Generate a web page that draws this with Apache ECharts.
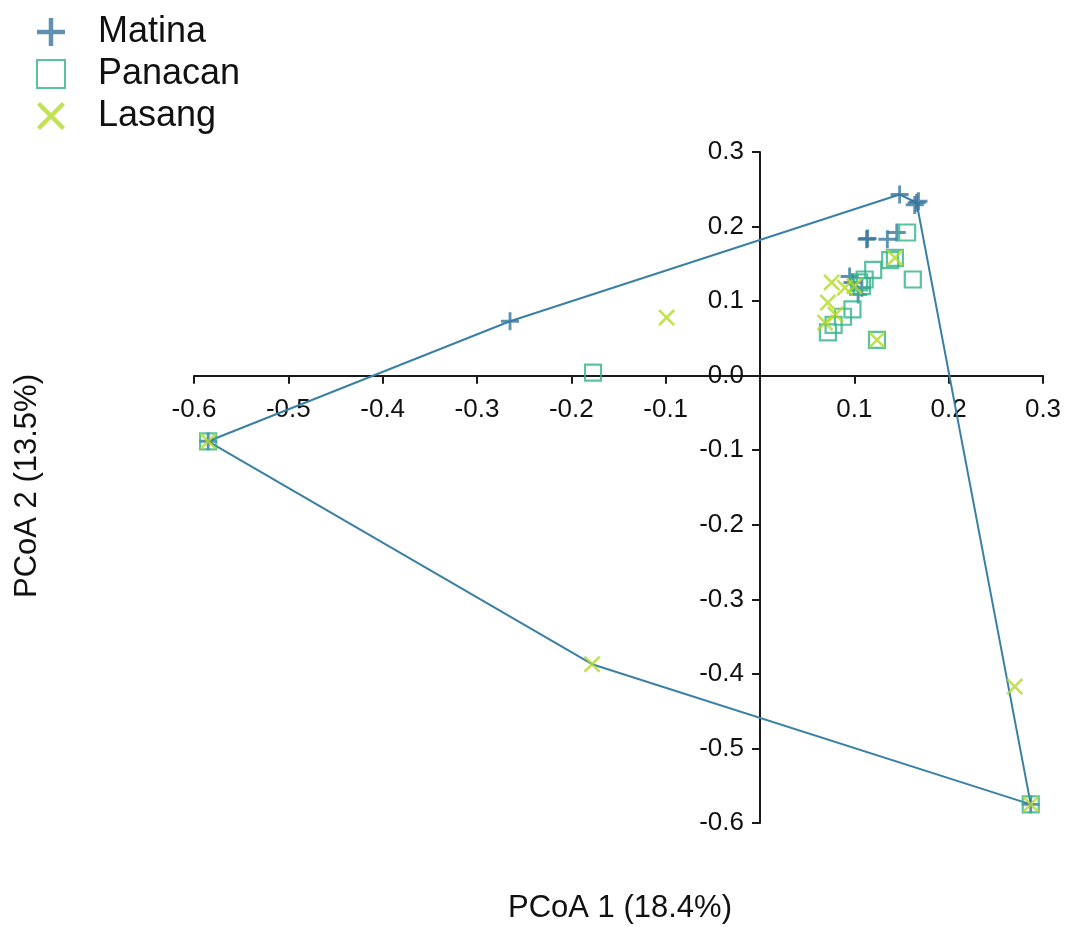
<!DOCTYPE html>
<html>
<head>
<meta charset="utf-8">
<script src="https://cdn.jsdelivr.net/npm/echarts@6/dist/echarts.min.js"></script>
<style>
  html, body { margin: 0; padding: 0; background: #fff; }
  #chart { width: 1068px; height: 927px; }
</style>
</head>
<body>
<div id="chart"></div>
<script>
// Group names
const groupNames = ['Matina', 'Panacan', 'Lasang'];

// PCoA coordinates [PCoA 1, PCoA 2]
const matinaPoints = [
  [-0.585, -0.088], [0.287, -0.575], [-0.265, 0.073], [0.148, 0.243],
  [0.166, 0.232], [0.164, 0.229], [0.168, 0.234],
  [0.113, 0.183], [0.114, 0.184], [0.135, 0.183], [0.145, 0.192],
  [0.095, 0.133], [0.104, 0.109], [0.108, 0.118], [0.098, 0.125]
];
const panacanPoints = [
  [-0.585, -0.088], [0.287, -0.575], [-0.177, 0.004], [0.156, 0.192],
  [0.162, 0.129], [0.143, 0.158], [0.138, 0.155], [0.120, 0.142],
  [0.111, 0.129], [0.108, 0.120], [0.105, 0.125], [0.098, 0.089],
  [0.088, 0.079], [0.078, 0.068], [0.072, 0.058], [0.124, 0.048]
];
const lasangPoints = [
  [-0.585, -0.088], [0.287, -0.575], [-0.099, 0.078], [-0.178, -0.387],
  [0.270, -0.417], [0.143, 0.158], [0.100, 0.120], [0.090, 0.118],
  [0.076, 0.125], [0.072, 0.098], [0.069, 0.071], [0.080, 0.082],
  [0.124, 0.048]
];

// Convex hull drawn around all samples
const hullPoints = [
  [-0.585, -0.088], [-0.265, 0.073], [0.148, 0.243], [0.166, 0.232],
  [0.287, -0.575], [-0.178, -0.387], [-0.585, -0.088]
];

const axisMin = -0.6;
const axisMax = 0.3;
const axisStep = 0.1;
const axisTitleX = 'PCoA 1 (18.4%)';
const axisTitleY = 'PCoA 2 (13.5%)';

const FONT = '"Liberation Sans", Arial, Helvetica, sans-serif';
const plusPath = 'path://M4.2,0H5.8V4.2H10V5.8H5.8V10H4.2V5.8H0V4.2H4.2Z';
const crossPath = 'path://M0,1.1L1.1,0L5,3.9L8.9,0L10,1.1L6.1,5L10,8.9L8.9,10L5,6.1L1.1,10L0,8.9L3.9,5Z';

// grid box, used to move both axes onto the zero lines
const W = 1068, H = 927;
const grid = { left: 194, right: 25, top: 152, bottom: 104 };
const gridW = W - grid.left - grid.right;
const gridH = H - grid.top - grid.bottom;
const zeroFrac = (0 - axisMin) / (axisMax - axisMin);

const chart = echarts.init(document.getElementById('chart'));

function fmt(v) {
  return Math.abs(v) < 1e-9 ? '0.0' : v.toFixed(1);
}

const axisCommon = {
  type: 'value',
  min: axisMin,
  max: axisMax,
  interval: axisStep,
  splitLine: { show: false },
  axisLine: { onZero: false, lineStyle: { color: '#1a1a1a', width: 2 } },
  axisTick: { show: true, length: 8, lineStyle: { color: '#1a1a1a', width: 2 } }
};

const option = {
  animation: false,
  backgroundColor: '#fff',
  legend: {
    orient: 'vertical',
    left: 31,
    top: 9,
    itemWidth: 28,
    itemHeight: 28,
    itemGap: 6,
    data: groupNames,
    textStyle: {
      fontFamily: FONT,
      fontSize: 36,
      lineHeight: 28,
      color: '#111',
      padding: [0, 0, 0, 28]
    }
  },
  grid: grid,
  xAxis: Object.assign({}, axisCommon, {
    position: 'bottom',
    offset: -zeroFrac * gridH,
    axisLabel: {
      margin: 21,
      fontFamily: FONT,
      fontSize: 26,
      color: '#111',
      showMinLabel: true,
      showMaxLabel: true,
      formatter: v => (Math.abs(v) < 1e-9 ? '' : fmt(v))
    }
  }),
  yAxis: Object.assign({}, axisCommon, {
    position: 'left',
    offset: -zeroFrac * gridW,
    axisLabel: {
      margin: 16,
      fontFamily: FONT,
      fontSize: 26,
      color: '#111',
      showMinLabel: true,
      showMaxLabel: true,
      formatter: fmt
    }
  }),
  graphic: [
    {
      type: 'text',
      x: 620,
      y: 908,
      style: {
        text: axisTitleX, fontFamily: FONT, fontSize: 31, fill: '#111',
        align: 'center', verticalAlign: 'middle'
      }
    },
    {
      type: 'text',
      x: 27,
      y: 486,
      rotation: Math.PI / 2,
      style: {
        text: axisTitleY, fontFamily: FONT, fontSize: 31, fill: '#111',
        align: 'center', verticalAlign: 'middle'
      }
    }
  ],
  series: [
    {
      type: 'line',
      data: hullPoints,
      symbol: 'none',
      silent: true,
      z: 1,
      lineStyle: { color: '#3a80a3', width: 2 }
    },
    {
      name: 'Matina',
      type: 'scatter',
      data: matinaPoints,
      symbol: plusPath,
      symbolSize: 18,
      itemStyle: { color: '#37779f' }
    },
    {
      name: 'Panacan',
      type: 'scatter',
      data: panacanPoints,
      symbol: 'rect',
      symbolSize: 16,
      itemStyle: { color: 'rgba(0,0,0,0)', borderColor: '#31b38a', borderWidth: 2.2 }
    },
    {
      name: 'Lasang',
      type: 'scatter',
      data: lasangPoints,
      symbol: crossPath,
      symbolSize: 17,
      itemStyle: { color: '#b3da2a' }
    }
  ]
};

chart.setOption(option);
</script>
</body>
</html>
